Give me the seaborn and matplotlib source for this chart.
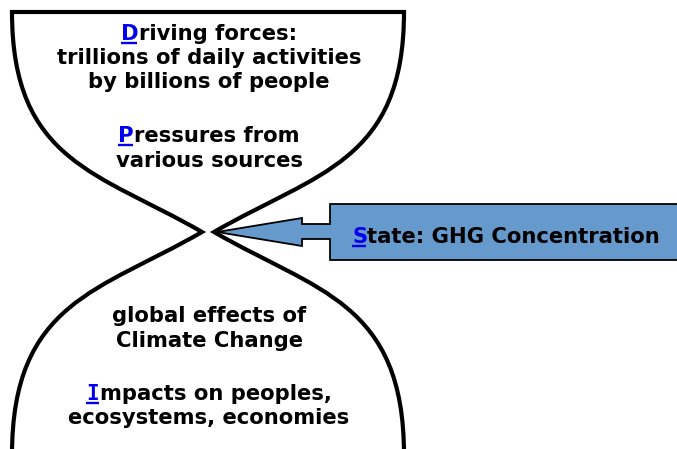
"""
DPSIR hourglass diagram: driving forces / pressures funnel down to the
state (GHG concentration), which spreads out into effects and impacts.
"""

import matplotlib
matplotlib.use("Agg")
import matplotlib.pyplot as plt
from matplotlib.path import Path
from matplotlib.patches import PathPatch, Polygon
import seaborn as sns

# ----------------------------------------------------------------------
# 1. CONTENT
# ----------------------------------------------------------------------
top_lines = ["Driving forces:", "trillions of daily activities",
             "by billions of people", "Pressures from", "various sources"]
top_baselines = [40, 64, 88, 142, 167]
top_marked = [True, False, False, True, False]

bottom_lines = ["global effects of", "Climate Change",
                "Impacts on peoples,", "ecosystems, economies"]
bottom_baselines = [322, 347, 400, 424]
bottom_marked = [False, False, True, False]

state_label = "State: GHG Concentration"
state_baseline = 243
state_center = 506
text_center = 209

# hourglass outline, pixel coords (y down): cubic bezier control points
left_top = [(12, 12), (12, 162), (100, 173), (202, 232)]
left_bottom = [(202, 232), (100, 291), (12, 302), (12, 455)]
right_top = [(404, 12), (404, 162), (316, 173), (214, 232)]
right_bottom = [(214, 232), (316, 291), (404, 302), (404, 455)]

# block arrow pointing into the neck
arrow_x = [217, 302, 302, 330, 330, 690, 690, 330, 330, 302, 302]
arrow_y = [232, 218, 224, 224, 204, 204, 260, 260, 239, 239, 246]

box_color = "#6699CC"
mark_color = "#0000EE"

# ----------------------------------------------------------------------
# 2. FIGURE
# ----------------------------------------------------------------------
sns.set_theme(style="white")
plt.rcParams["font.family"] = ["DejaVu Sans"]

fig = plt.figure(figsize=(6.77, 4.49), dpi=100)
ax = fig.add_axes([0, 0, 1, 1])
ax.set_xlim(0, 677)
ax.set_ylim(449, 0)
ax.axis("off")

# outline: bottom-left -> neck -> top-left -> top edge -> top-right -> neck -> bottom-right
verts = [left_bottom[3], left_bottom[2], left_bottom[1], left_bottom[0],
         left_top[2], left_top[1], left_top[0],
         right_top[0],
         right_top[1], right_top[2], right_top[3],
         right_bottom[1], right_bottom[2], right_bottom[3]]
codes = ([Path.MOVETO] + [Path.CURVE4] * 3 + [Path.CURVE4] * 3 + [Path.LINETO]
         + [Path.CURVE4] * 3 + [Path.CURVE4] * 3)
ax.add_patch(PathPatch(Path(verts, codes), facecolor="none", edgecolor="black",
                       lw=3.0, joinstyle="miter", capstyle="butt"))

ax.add_patch(Polygon(list(zip(arrow_x, arrow_y)), closed=True,
                     facecolor=box_color, edgecolor="black", lw=1.3,
                     joinstyle="miter"))

renderer = fig.canvas.get_renderer()
font = dict(fontsize=15.2, fontweight="bold", va="baseline")


def text_width(s, **kw):
    t = ax.text(0, 0, s, **font, **kw)
    w = t.get_window_extent(renderer).width
    t.remove()
    return w


def draw_line(cx, y, s, marked):
    if not marked:
        ax.text(cx, y, s, ha="center", color="black", **font)
        return
    rest_w = text_width(s[1:])
    if s[0] == "I":
        # Verdana-like capital I has bars; take it from the mono face
        first_kw = {"family": "DejaVu Sans Mono"}
        ink_w = text_width("I", **first_kw)
        first_w = ink_w + 0.5
    else:
        first_kw = {}
        first_w = text_width(s) - rest_w
        ink_w = first_w - 1.5
    x0 = cx - (first_w + rest_w) / 2
    ax.text(x0, y, s[0], ha="left", color=mark_color, **font, **first_kw)
    ax.text(x0 + first_w, y, s[1:], ha="left", color="black", **font)
    ax.plot([x0, x0 + ink_w], [y + 2.5, y + 2.5], color=mark_color,
            lw=1.7, solid_capstyle="butt")


for s, y, m in zip(top_lines, top_baselines, top_marked):
    draw_line(text_center, y, s, m)
for s, y, m in zip(bottom_lines, bottom_baselines, bottom_marked):
    draw_line(text_center, y, s, m)
draw_line(state_center, state_baseline, state_label, True)

fig.savefig("out.png", dpi=100)
plt.close(fig)
